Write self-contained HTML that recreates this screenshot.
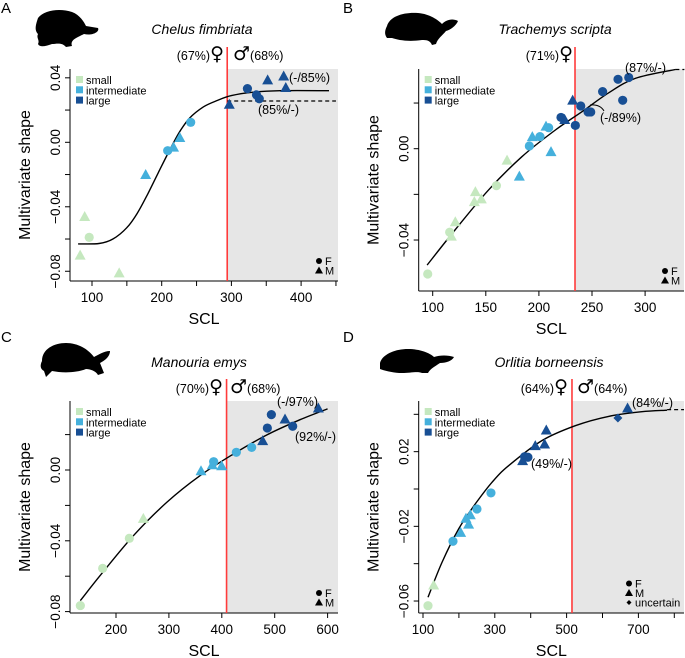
<!DOCTYPE html>
<html><head><meta charset="utf-8"><style>
html,body{margin:0;padding:0;background:#fff;}
svg{display:block;font-family:"Liberation Sans","DejaVu Sans",sans-serif;}
</style></head><body>
<svg id="fig" width="685" height="658" viewBox="0 0 685 658" xmlns="http://www.w3.org/2000/svg"></svg>
<script>
// ---------- Panel A: Chelus fimbriata ----------
const aSCL   = [89.5,96,83,139, 177,208.6,217,226,241.6, 297,323,336,340,352,375,378];
const aShape = [-0.046,-0.059,-0.070,-0.081, -0.020,-0.0052,-0.003,0.003,0.0124, 0.0236,0.0333,0.0294,0.027,0.0387,0.0411,0.034];
const aSize  = ['s','s','s','s','i','i','i','i','i','l','l','l','l','l','l','l'];
const aSex   = ['M','F','M','M','M','F','M','M','F','M','F','F','F','M','M','M'];
const aCurveX = [80,110,130,150,165,180,195,210,225,240,260,280,300,330,370,440];
const aCurveY = [-0.063,-0.0628,-0.060,-0.053,-0.044,-0.032,-0.019,-0.006,0.006,0.015,0.022,0.026,0.029,0.031,0.032,0.032];
// ---------- Panel B: Trachemys scripta ----------
const bSCL   = [95.3,117.6,116,121.3,139.2,140.2,145.8,160,170, 181.6,191,193.8,201,206.7,209.2,211.4, 220.8,224.3,231.8,234.3,239.4,246.3,248.8,260,274.5,278.9,284.6];
const bShape = [-0.0549,-0.0383,-0.0366,-0.032,-0.0232,-0.0188,-0.022,-0.0162,-0.005, -0.012,0.0012,0.0053,0.0053,0.0099,0.0092,-0.0013, 0.0137,0.0128,0.0213,0.0102,0.0187,0.0161,0.0161,0.025,0.0304,0.0212,0.0312];
const bSize  = ['s','s','s','s','s','s','s','s','s','i','i','i','i','i','i','i','l','l','l','l','l','l','l','l','l','l','l'];
const bSex   = ['F','M','F','M','M','M','M','F','M','M','F','M','F','M','F','M','F','M','M','F','F','F','F','F','F','F','F'];
const bCurveX = [94.7,121,152.7,184,215.5,240.6,265.7,290.8,328.5];
const bCurveY = [-0.051,-0.0356,-0.018,-0.0035,0.0082,0.0162,0.0245,0.0308,0.0347];
// ---------- Panel C: Manouria emys ----------
const cSCL   = [132.6,174.8,225.2,251.7, 360.7,382,384.6,399.7,427.5,456.5, 477.3,486.1,493.7,519.5,534,582.5];
const cShape = [-0.0766,-0.0556,-0.0386,-0.0273, -0.0004,0.003,0.0047,0.0024,0.010,0.0128, 0.0166,0.0237,0.0313,0.0288,0.0247,0.035];
const cSize  = ['s','s','s','s','i','i','i','i','i','i','l','l','l','l','l','l'];
const cSex   = ['F','F','F','M','M','M','F','M','F','F','M','F','F','M','F','M'];
const cCurveX = [132.6,169.8,232.8,295.8,358.8,421.8,484.9,547.9,600];
const cCurveY = [-0.0738,-0.0597,-0.0371,-0.0183,-0.0032,0.009,0.0198,0.0284,0.0345];
// ---------- Panel D: Orlitia borneensis ----------
const dSCL   = [113.9,129.7, 183.5,204.9,219.7,227.1,231.8,250.3,289.3, 377.5,383,392.3,412.8,438.7,443.4,642.9,669.8];
const dShape = [-0.0625,-0.0514, -0.028,-0.0232,-0.0157,-0.0188,-0.0138,-0.0107,-0.0021, 0.0152,0.0173,0.017,0.0232,0.0241,0.0316,0.038,0.0434];
const dSize  = ['s','s','i','i','i','i','i','i','i','l','l','l','l','l','l','l','l'];
const dSex   = ['F','M','F','M','M','M','M','F','F','M','F','F','M','M','M','U','M'];
const dCurveX = [113.9,152.9,199.3,245.7,292.1,338.5,431.3,524.1,616.9,709.7,780];
const dCurveY = [-0.058,-0.0393,-0.0214,-0.008,0.0036,0.0125,0.0259,0.0339,0.0389,0.0414,0.0422];

const NS='http://www.w3.org/2000/svg';
const svg=document.getElementById('fig');
const COL={s:'#c5e8bf',i:'#45b0dc',l:'#184f94'};
function mk(tag,attrs,parent){const e=document.createElementNS(NS,tag);for(const k in attrs)e.setAttribute(k,attrs[k]);(parent||svg).appendChild(e);return e;}
function txt(s,x,y,size,parent,extra){const t=mk('text',Object.assign({x:x,y:y,'font-size':size,fill:'#000'},extra||{}),parent);t.textContent=s;return t;}
function smooth(pts){let d='M'+pts[0][0].toFixed(1)+','+pts[0][1].toFixed(1);
  for(let i=0;i<pts.length-1;i++){const p0=pts[i-1]||pts[i],p1=pts[i],p2=pts[i+1],p3=pts[i+2]||p2;
    const c1=[p1[0]+(p2[0]-p0[0])/6,p1[1]+(p2[1]-p0[1])/6],c2=[p2[0]-(p3[0]-p1[0])/6,p2[1]-(p3[1]-p1[1])/6];
    d+='C'+c1[0].toFixed(1)+','+c1[1].toFixed(1)+' '+c2[0].toFixed(1)+','+c2[1].toFixed(1)+' '+p2[0].toFixed(1)+','+p2[1].toFixed(1);}
  return d;}

function panel(cfg){
  const g=mk('g',{});
  
  
  const X=v=>cfg.x0+(v-cfg.xv0)*cfg.xs;
  const Y=v=>cfg.y0-v*cfg.ys;
  const sh=mk('rect',{x:X(cfg.red),y:cfg.top,width:cfg.right-X(cfg.red),height:cfg.bottom-cfg.top,fill:'#e6e6e6'},g);
  
  
  const ax=mk('g',{stroke:'#000','stroke-width':1},g);
  
  
  mk('line',{x1:cfg.left,y1:cfg.bottom,x2:cfg.right,y2:cfg.bottom},ax);
  mk('line',{x1:cfg.left,y1:cfg.top,x2:cfg.left,y2:cfg.bottom},ax);
  cfg.xticks.forEach(v=>{mk('line',{x1:X(v),y1:cfg.bottom,x2:X(v),y2:cfg.bottom+5},ax);});
  cfg.xlabels.forEach(v=>{const t=txt(String(v),X(v),cfg.bottom+21,13.5,g,{'text-anchor':'middle'});});
  cfg.yticks.forEach(v=>{mk('line',{x1:cfg.left-5,y1:Y(v),x2:cfg.left,y2:Y(v)},ax);});
  cfg.ylabels.forEach(v=>{const s=v===0?'0.00':(v<0?'\u2212':'')+Math.abs(v).toFixed(2);const yy=Y(v);const xx=cfg.left-10;const t=txt(s,xx,yy,13.5,g,{'text-anchor':'middle',transform:'rotate(-90 '+xx+' '+yy+')'});});
  const xt=txt('SCL',(cfg.left+cfg.right)/2,cfg.bottom+43,16,g,{'text-anchor':'middle'});
  
  
  const yc=(cfg.top+cfg.bottom)/2;const tx=cfg.left-40;
  const yt=txt('Multivariate shape',tx,yc,16,g,{'text-anchor':'middle',transform:'rotate(-90 '+tx+' '+yc+')'});
  
  
  const rl=mk('line',{x1:X(cfg.red),y1:cfg.top-22,x2:X(cfg.red),y2:cfg.bottom,stroke:'#ff3b3b','stroke-width':1.6},g);
  
  
  const pts=cfg.cx.map((v,i)=>[X(v),Y(cfg.cy[i])]);
  const cv=mk('path',{d:smooth(pts),fill:'none',stroke:'#000','stroke-width':1.4},g);
  
  
  if(cfg.dash){const dl=mk('line',{x1:X(cfg.dash[0]),y1:Y(cfg.dash[2]),x2:X(cfg.dash[1]),y2:Y(cfg.dash[2]),stroke:'#000','stroke-width':1.2,'stroke-dasharray':'4,3'},g);}
  cfg.sx.forEach((v,i)=>{
    const px=X(v),py=Y(cfg.sy[i]),c=COL[cfg.sz[i]];let p;
    if(cfg.sex[i]==='F'){p=mk('circle',{cx:px,cy:py,r:4.6,fill:c},g);}
    else if(cfg.sex[i]==='M'){p=mk('polygon',{points:(px-5.5)+','+(py+4.5)+' '+(px+5.5)+','+(py+4.5)+' '+px+','+(py-5.5),fill:c},g);}
    else{p=mk('polygon',{points:px+','+(py-4.5)+' '+(px+4.5)+','+py+' '+px+','+(py+4.5)+' '+(px-4.5)+','+py,fill:c},g);}
    
    
  });
  const lg=mk('g',{},g);
  
  
  [['small','s'],['intermediate','i'],['large','l']].forEach((e,k)=>{const yy=cfg.top+11+k*10.3;mk('rect',{x:cfg.left+6,y:yy-4,width:7,height:7,fill:COL[e[1]]},lg);txt(e[0],cfg.left+16,yy+4,11,lg);});
  const sl=mk('g',{},g);
  
  
  const ents=cfg.unc?['F','M','uncertain']:['F','M'];const lx=cfg.unc?cfg.right-55:cfg.right-19;
  ents.forEach((e,k)=>{const yy=cfg.bottom-(ents.length-k)*9.5-1;
    if(e==='F')mk('circle',{cx:lx,cy:yy,r:3,fill:'#000'},sl);
    else if(e==='M')mk('polygon',{points:(lx-4)+','+(yy+3)+' '+(lx+4)+','+(yy+3)+' '+lx+','+(yy-4),fill:'#000'},sl);
    else mk('polygon',{points:lx+','+(yy-2.5)+' '+(lx+2.5)+','+yy+' '+lx+','+(yy+2.5)+' '+(lx-2.5)+','+yy,fill:'#000'},sl);
    txt(e,lx+6,yy+4,11,sl);});
  const tt=txt(cfg.title,cfg.tx,cfg.ty,14,g,{'text-anchor':'middle','font-style':'italic'});
  
  
  const lt=txt(cfg.id,cfg.ox+1,cfg.oy+13,15,g);
  
  
  cfg.ann.forEach(a=>{const t=mk('text',{x:a[1],y:a[2],'font-size':12.5,fill:'#000','text-anchor':a[3]||'start'},g);
    a[0].split(/([\u2640\u2642])/).forEach(part=>{if(!part)return;const ts=mk('tspan',{},t);if(part==='\u2640'||part==='\u2642'){ts.setAttribute('font-size','19');ts.setAttribute('font-family','DejaVu Sans, sans-serif');}ts.textContent=part;});
    });
  const s=mk('path',{d:cfg.sil,fill:'#000',transform:'translate('+cfg.ox+','+cfg.oy+')'},g);
  
  
  return {X,Y,g};
}

const silA='M38,18 C44,10 60,8 72,12 C80,15 84,22 86,26 L98,28 C100,32 92,36 84,34 C76,38 70,40 72,46 L66,47 C62,42 56,44 52,44 C46,46 40,48 38,44 C40,40 36,38 38,34 C34,30 36,24 38,18 Z';
const silB='M45,26 C48,16 62,12 76,13 C88,14 96,20 100,24 C104,20 110,18 116,21 C114,26 108,30 104,31 C100,36 96,38 94,44 L90,45 C88,40 84,40 80,40 C66,42 56,40 50,38 L45,38 C42,34 43,30 45,26 Z';
const silC='M42,32 C42,20 54,14 66,14 C78,14 88,20 94,28 C98,26 104,22 110,22 C110,28 104,32 100,34 L104,44 L98,46 C96,42 90,40 86,40 C76,44 62,44 52,42 L46,48 L44,42 C40,40 40,36 42,32 Z';
const silD='M38,34 C40,26 52,20 66,20 C78,20 88,24 92,28 C98,26 106,26 112,28 C110,32 104,34 98,34 C92,38 88,40 86,44 L80,44 C76,42 68,44 60,44 C52,44 44,42 38,40 Z';

panel({id:'A',ox:0,oy:0,x0:92,xv0:100,xs:0.697,y0:142.3,ys:1612,left:70,right:338,top:69,bottom:281,red:294,
  xticks:[100,150,200,250,300,350,400,450],xlabels:[100,200,300,400],yticks:[0.04,0.02,0,-0.02,-0.04,-0.06,-0.08],ylabels:[0.04,0,-0.04,-0.08],
  sx:aSCL,sy:aShape,sz:aSize,sex:aSex,cx:aCurveX,cy:aCurveY,dash:[294,450,0.0256],title:'Chelus fimbriata',tx:202,ty:34,sil:silA,
  ann:[['(67%)\u2640',224,60,'end'],['\u2642(68%)',233,60],['(-/85%)',289,82],['(85%/-)',258,114]]});
panel({id:'B',ox:342,oy:0,x0:432.7,xv0:100,xs:1.062,y0:148.7,ys:2283,left:418.7,right:684,top:69,bottom:291,red:234,
  xticks:[100,150,200,250,300],xlabels:[100,150,200,250,300],yticks:[0.02,0,-0.02,-0.04],ylabels:[0,-0.04],
  sx:bSCL,sy:bShape,sz:bSize,sex:bSex,cx:bCurveX,cy:bCurveY,dash:[328.5,337,0.0347],title:'Trachemys scripta',tx:555,ty:34,sil:silB,
  ann:[['(71%)\u2640',573,60,'end'],['(87%/-)',625,72],['(-/89%)',600,122]]});
panel({id:'C',ox:0,oy:329,x0:116,xv0:200,xs:0.529,y0:470,ys:1770,left:70,right:338,top:401,bottom:613,red:409,
  xticks:[200,300,400,500,600],xlabels:[200,300,400,500,600],yticks:[0.02,0,-0.02,-0.04,-0.06,-0.08],ylabels:[0,-0.04,-0.08],
  sx:cSCL,sy:cShape,sz:cSize,sex:cSex,cx:cCurveX,cy:cCurveY,dash:null,title:'Manouria emys',tx:199,ty:367,sil:silC,
  ann:[['(70%)\u2640',223,393,'end'],['\u2642(68%)',230,393],['(-/97%)',277,406],['(92%/-)',295,441]]});
panel({id:'D',ox:342,oy:329,x0:423,xv0:100,xs:0.359,y0:489,ys:1867,left:418.7,right:684,top:401,bottom:613,red:515,unc:true,
  xticks:[100,200,300,400,500,600,700,800],xlabels:[100,300,500,700],yticks:[0.04,0.02,0,-0.02,-0.04,-0.06],ylabels:[0.02,-0.02,-0.06],
  sx:dSCL,sy:dShape,sz:dSize,sex:dSex,cx:dCurveX,cy:dCurveY,dash:[780,827,0.0425],title:'Orlitia borneensis',tx:549,ty:367,sil:silD,
  ann:[['(64%)\u2640',568,393,'end'],['\u2642(64%)',577,393],['(84%/-)',632,407],['(49%/-)',531,468]]});
const ar=mk('path',{d:'M590,105 Q600,104 604,111',fill:'none',stroke:'#000','stroke-width':1});


</script>
</body></html>
